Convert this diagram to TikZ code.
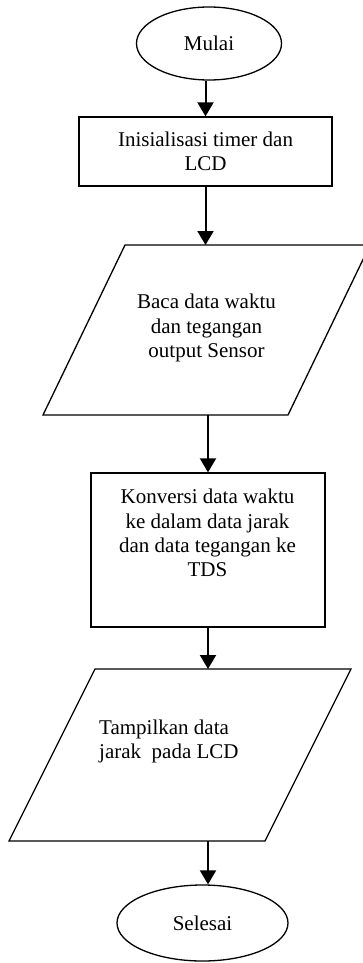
\documentclass[tikz,border=0pt]{standalone}
\usepackage{fontspec}
\setmainfont{Liberation Serif}
\usetikzlibrary{shapes.geometric,arrows.meta}
\newcommand\flowfont{\fontsize{21}{24.3}\selectfont}
\begin{document}
\begin{tikzpicture}[x=1pt,y=-1pt,
  shape line/.style={draw=black,line width=1.3pt},
  flow/.style={draw=black,line width=2pt,-{Triangle[length=14pt,width=16pt]}},
  term/.style={ellipse,shape line,inner sep=0pt,font=\flowfont},
  box/.style={rectangle,shape line,inner sep=0pt,align=center,font=\flowfont},
  frame/.style={rectangle,inner sep=0pt,outer sep=0pt},
  txt/.style={inner sep=0pt,align=center,font=\flowfont}]
\useasboundingbox[fill=white] (0,0) rectangle (363,963);

% start terminal
\node[term,minimum width=145pt,minimum height=73pt] (start) at (209,43.5) {Mulai};

% initialisation step
\node[box,minimum width=253pt,minimum height=69pt] (init) at (205.5,151.5)
  {Inisialisasi timer dan\\LCD};

% input: read sensor data
\node[frame,minimum width=327pt,minimum height=170pt] (read) at (206.5,330) {};
\draw[shape line] ([xshift=82pt]read.north west) -- (read.north east)
  -- ([xshift=-82pt]read.south east) -- (read.south west) -- cycle;
\node[txt] (readtxt) at (206.5,328) {Baca data waktu\\dan tegangan\\output Sensor};

% conversion step
\node[box,minimum width=234pt,minimum height=154pt] (conv) at (208,550) {};
\node[txt] (convtxt) at (207.5,533) {Konversi data waktu\\ke dalam data jarak\\dan data tegangan ke\\TDS};

% output: show on LCD
\node[frame,minimum width=342pt,minimum height=172pt] (show) at (180,755) {};
\draw[shape line] ([xshift=86pt]show.north west) -- (show.north east)
  -- ([xshift=-86pt]show.south east) -- (show.south west) -- cycle;
\node[txt,align=left,anchor=west] (showtxt) at (99,741.5) {Tampilkan data\\jarak\ \ pada LCD};

% end terminal
\node[term,minimum width=171pt,minimum height=76pt] (stop) at (202.5,923) {Selesai};

% flow arrows
\draw[flow] (init.north |- start.south) -- (init.north);
\draw[flow] (init.south) -- (init.south |- read.north);
\draw[flow] (conv.north |- read.south) -- (conv.north);
\draw[flow] (conv.south) -- (conv.south |- show.north);
\draw[flow] (conv.south |- show.south) -- (conv.south |- stop.north);
\end{tikzpicture}
\end{document}
